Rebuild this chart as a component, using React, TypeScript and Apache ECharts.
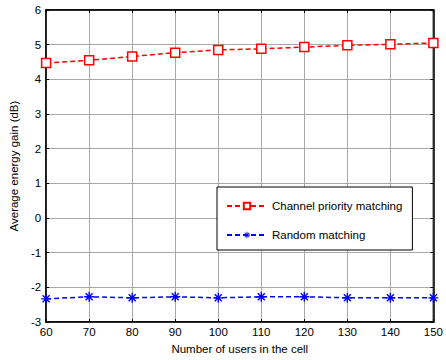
import React, { useEffect, useRef } from "react";
import * as echarts from "echarts";

const users = [60, 70, 80, 90, 100, 110, 120, 130, 140, 150];
const channelPriority = [4.47, 4.55, 4.66, 4.77, 4.85, 4.88, 4.93, 4.98, 5.01, 5.05];
const randomMatching = [-2.33, -2.27, -2.3, -2.27, -2.3, -2.27, -2.27, -2.3, -2.3, -2.3];
const seriesNames = ["Channel priority matching", "Random matching"];

const asterisk =
  "path://M-0.7,-5 L0.7,-5 L0.7,5 L-0.7,5 Z M-5,-0.7 L5,-0.7 L5,0.7 L-5,0.7 Z M-3,-4 L4,3 L3,4 L-4,-3 Z M3,-4 L4,-3 L-3,4 L-4,3 Z";

export default function App() {
  const ref = useRef<HTMLDivElement>(null);
  useEffect(() => {
    if (!ref.current) return;
    const chart = echarts.init(ref.current, undefined, { renderer: "svg" });
    const font = "Liberation Sans, Arial, sans-serif";
    const fs = 11.5;
    const tick = { show: true, inside: true, length: 3, lineStyle: { color: "#000" } };
    chart.setOption({
      animation: false,
      backgroundColor: "#fff",
      textStyle: { fontFamily: font },
      grid: {
        left: 41,
        right: 8,
        top: 10,
        bottom: 35,
        show: true,
        borderColor: "#000",
        borderWidth: 1.5,
      },
      legend: {
        orient: "vertical",
        left: 217,
        top: 187,
        padding: [13, 10, 9, 9],
        itemGap: 17,
        itemWidth: 40,
        itemHeight: 8,
        backgroundColor: "#fff",
        borderColor: "#000",
        borderWidth: 1,
        borderRadius: 0,
        textStyle: { fontFamily: font, fontSize: fs, color: "#000" },
        data: seriesNames,
      },
      xAxis: [
        {
          type: "value",
          min: 60,
          max: 150,
          interval: 10,
          name: "Number of users in the cell",
          nameLocation: "middle",
          nameGap: 19,
          nameTextStyle: { fontSize: fs, color: "#000", fontFamily: font },
          axisLine: { show: true, onZero: false, lineStyle: { color: "#000", width: 1.5 } },
          axisTick: tick,
          axisLabel: { fontSize: fs, color: "#000", margin: 4, fontFamily: font },
          splitLine: { show: true, lineStyle: { color: "#a8a8a8", width: 1 } },
        },
        {
          type: "value",
          position: "top",
          min: 60,
          max: 150,
          interval: 10,
          axisLine: { show: true, onZero: false, lineStyle: { color: "#000", width: 1.5 } },
          axisTick: tick,
          axisLabel: { show: false },
          splitLine: { show: false },
        },
      ],
      yAxis: [
        {
          type: "value",
          min: -3,
          max: 6,
          interval: 1,
          name: "Average energy gain (dB)",
          nameLocation: "middle",
          nameGap: 26,
          nameTextStyle: { fontSize: fs, color: "#000", fontFamily: font },
          axisLine: { show: true, onZero: false, lineStyle: { color: "#000", width: 1.5 } },
          axisTick: tick,
          axisLabel: { fontSize: fs, color: "#000", margin: 5, fontFamily: font },
          splitLine: { show: true, lineStyle: { color: "#a8a8a8", width: 1 } },
        },
        {
          type: "value",
          position: "right",
          min: -3,
          max: 6,
          interval: 1,
          axisLine: { show: true, onZero: false, lineStyle: { color: "#000", width: 1.5 } },
          axisTick: tick,
          axisLabel: { show: false },
          splitLine: { show: false },
        },
      ],
      series: [
        {
          name: seriesNames[0],
          type: "line",
          data: users.map((u, i) => [u, channelPriority[i]]),
          symbol: "rect",
          symbolSize: 9,
          color: "#ff0000",
          lineStyle: { color: "#ff0000", type: [5, 3], width: 1.5 },
          itemStyle: { color: "#fff", borderColor: "#ff0000", borderWidth: 1.5 },
        },
        {
          name: seriesNames[1],
          type: "line",
          data: users.map((u, i) => [u, randomMatching[i]]),
          symbol: asterisk,
          symbolSize: 10,
          color: "#0000ff",
          lineStyle: { color: "#0000ff", type: [5, 3], width: 1.5 },
          itemStyle: { color: "#0000ff" },
        },
      ],
    });
    return () => chart.dispose();
  }, []);
  return (
    <div
      ref={ref}
      style={{ position: "fixed", left: 0, top: 0, width: 446, height: 360 }}
    />
  );
}
